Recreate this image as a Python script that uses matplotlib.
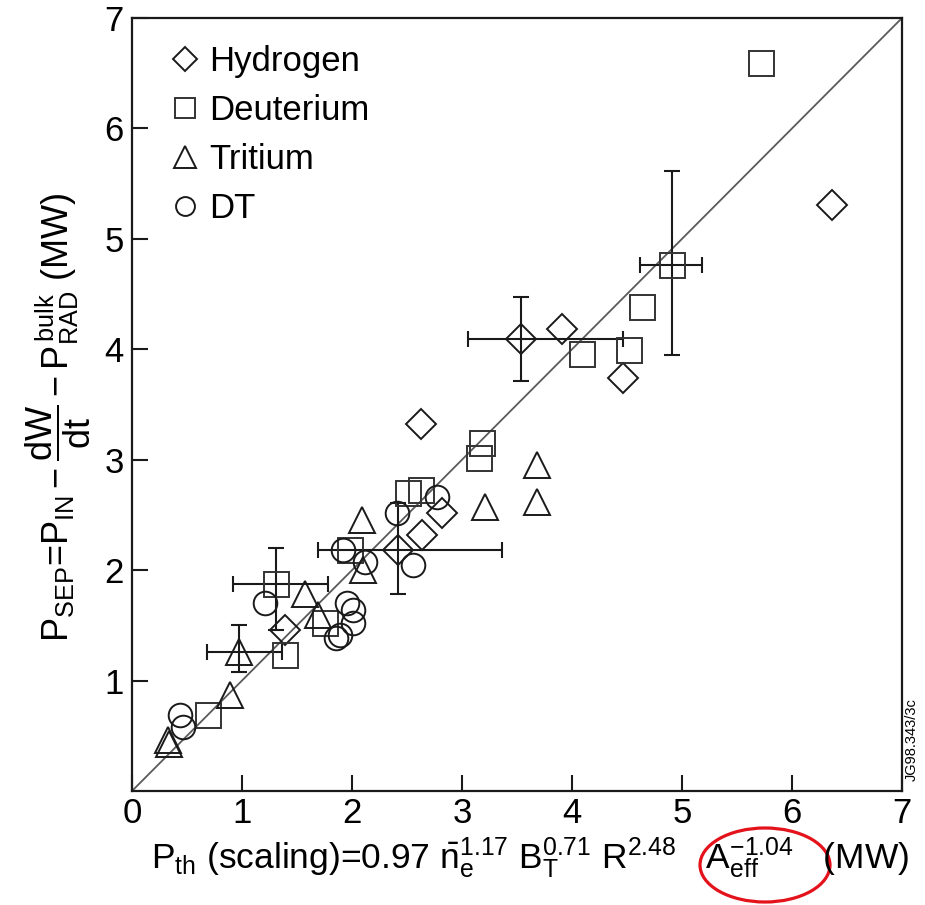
import numpy as np
import matplotlib
matplotlib.use("Agg")
import matplotlib.pyplot as plt
from matplotlib.patches import Ellipse

plt.rcParams['font.family'] = ['Liberation Sans', 'DejaVu Sans']
plt.rcParams['mathtext.fontset'] = 'custom'
plt.rcParams['mathtext.rm'] = 'Liberation Sans'
plt.rcParams['mathtext.it'] = 'Liberation Sans'
plt.rcParams['mathtext.bf'] = 'Liberation Sans:bold'

# 各同位素放电的 P_th(定标) 与 P_SEP (MW)
h_x = [6.36, 3.91, 3.54, 4.46, 2.63, 2.82, 2.64, 2.42, 1.39]
h_y = [5.31, 4.18, 4.09, 3.74, 3.32, 2.52, 2.32, 2.18, 1.46]

d_x = [5.72, 4.91, 4.64, 4.52, 4.09, 3.18, 3.15, 2.63, 2.51, 1.98, 1.31, 1.75, 1.39, 0.69]
d_y = [6.59, 4.76, 4.38, 3.99, 3.96, 3.15, 3.02, 2.73, 2.70, 2.18, 1.87, 1.52, 1.23, 0.69]

t_x = [3.68, 3.21, 3.68, 2.09, 2.10, 1.57, 1.69, 0.97, 0.89, 0.33, 0.34]
t_y = [2.95, 2.57, 2.62, 2.45, 2.00, 1.78, 1.59, 1.26, 0.87, 0.46, 0.43]

dt_x = [2.77, 2.41, 2.55, 1.92, 2.12, 1.21, 1.95, 2.01, 2.01, 1.89, 1.85, 0.44, 0.46]
dt_y = [2.66, 2.52, 2.05, 2.18, 2.07, 1.70, 1.70, 1.64, 1.52, 1.41, 1.39, 0.69, 0.58]

# 误差棒: 中心点及上下/左右误差
err_x = [3.54, 2.42, 4.91, 1.31, 0.97]
err_y = [4.09, 2.18, 4.76, 1.87, 1.26]
xerr_lo = [0.49, 0.73, 0.29, 0.39, 0.29]
xerr_hi = [0.92, 0.94, 0.27, 0.47, 0.39]
yerr_lo = [0.38, 0.40, 0.81, 0.41, 0.18]
yerr_hi = [0.38, 0.43, 0.85, 0.33, 0.24]

x_ticks = [0, 1, 2, 3, 4, 5, 6, 7]
y_ticks = [1, 2, 3, 4, 5, 6, 7]

ec = '#1a1a1a'
mew = 1.4

fig = plt.figure(figsize=(9.25, 9.05), dpi=100)
ax = fig.add_axes([132 / 925, 114 / 905, 770 / 925, 773 / 905])

ax.plot([0, 7], [0, 7], color='#5a5a5a', lw=1.3, zorder=1)

ax.errorbar(err_x, err_y, xerr=[xerr_lo, xerr_hi], yerr=[yerr_lo, yerr_hi],
            fmt='none', ecolor=ec, elinewidth=1.5, capsize=6, capthick=1.5, zorder=2)

ax.plot(h_x, h_y, ls='none', marker='D', ms=15, mfc='none', mec=ec, mew=mew,
        label='Hydrogen', zorder=3)
ax.plot(d_x, d_y, ls='none', marker='s', ms=18, mfc='none', mec='#333333', mew=mew,
        label='Deuterium', zorder=3)
ax.plot(t_x, t_y, ls='none', marker='^', ms=19, mfc='none', mec=ec, mew=mew,
        label='Tritium', zorder=3)
ax.plot(dt_x, dt_y, ls='none', marker='o', ms=17, mfc='none', mec=ec, mew=mew,
        label='DT', zorder=3)

ax.set_xlim(0, 7)
ax.set_ylim(0, 7)
ax.set_xticks(x_ticks)
ax.set_yticks(y_ticks)
ax.tick_params(direction='in', length=11.5, width=1.5, labelsize=25, color=ec)
ax.tick_params(axis='x', pad=4)
ax.tick_params(axis='y', pad=6)
for sp in ax.spines.values():
    sp.set_linewidth(1.6)
    sp.set_color(ec)

leg = ax.legend(loc='upper left', bbox_to_anchor=(0.033, 0.983), frameon=False,
                fontsize=25, markerscale=0.8, handlelength=0.8, handletextpad=0.3,
                labelspacing=0.46, borderaxespad=0)

fig.text(530 / 925, 1 - 858 / 905,
         r'$\mathregular{P_{th}}$ (scaling)=0.97 $\mathregular{\bar{n}_{e}^{1.17}}$ '
         r'$\mathregular{B_{T}^{0.71}}$ $\mathregular{R^{2.48}}$   '
         r'$\mathregular{A_{eff}^{-1.04}}$   (MW)',
         ha='center', va='center', fontsize=25.5)

fig.text(58 / 925, 1 - 417 / 905,
         r'$\mathregular{P_{SEP}}$=$\mathregular{P_{IN}-\dfrac{dW}{dt}-P_{RAD}^{\,bulk}}$ (MW)',
         ha='center', va='center', rotation=90, fontsize=26)

fig.text(912 / 925, 1 - 740 / 905, 'JG98.343/3c', ha='center', va='center',
         rotation=90, fontsize=10.5)

# 红色圈注 A_eff 项
fig.patches.append(Ellipse((765 / 925, 1 - 865 / 905), 130 / 925, 74 / 905,
                           transform=fig.transFigure, fill=False,
                           edgecolor='#e3121b', lw=2.3))

fig.savefig('out.png', dpi=100)
